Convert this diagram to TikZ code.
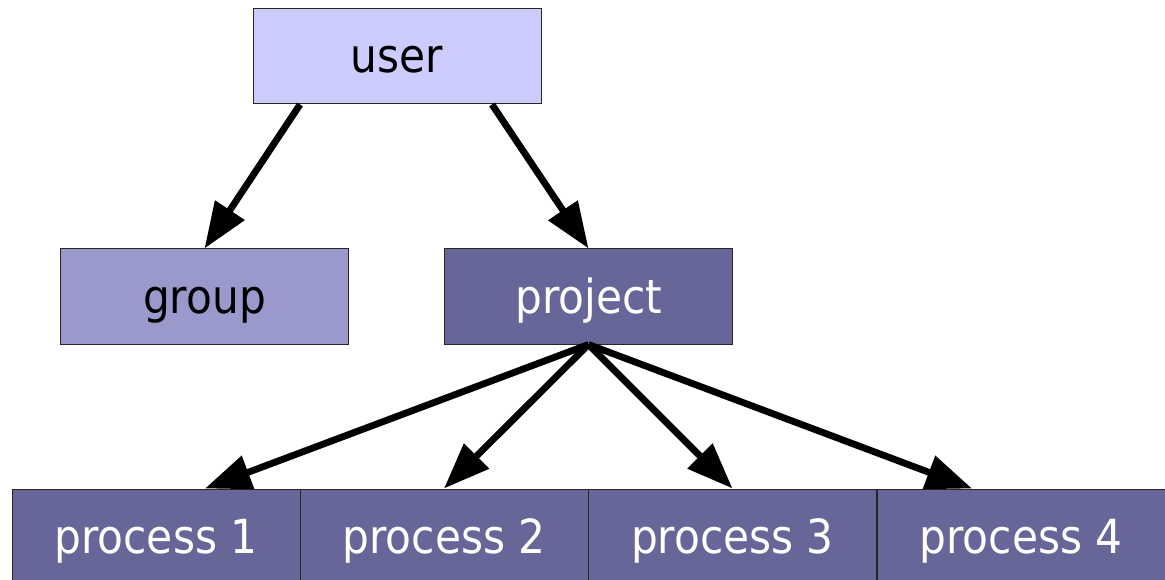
\documentclass[tikz,border=0pt]{standalone}
\usepackage{fontspec}
\setmainfont{DejaVu Sans Condensed}
\usetikzlibrary{arrows.meta}
\definecolor{userc}{HTML}{CCCCFF}
\definecolor{groupc}{HTML}{9999CC}
\definecolor{projc}{HTML}{666699}
\begin{document}
\begin{tikzpicture}[x=1pt,y=-1pt,
  box/.style={draw=black!85, line width=1pt, minimum width=288pt, minimum height=95pt,
    inner sep=0pt, text height=33pt, text depth=0pt, font=\fontsize{47}{54}\selectfont},
  light/.style={box, fill=userc, text=black},
  mid/.style={box, fill=groupc, text=black},
  dark/.style={box, fill=projc, text=white},
  conn/.style={line width=6.8pt, -{Triangle[length=46pt,width=34pt]}}
]
\useasboundingbox (0,0) rectangle (1165,580);
\node[light] (user) at (397,56.5) {user};
\node[mid] (group) at (204.5,296.5) {group};
\node[dark] (project) at (588.5,296.5) {project};
\node[dark] (p1) at (156,536.5) {process 1};
\node[dark] (p2) at (444,536.5) {process 2};
\node[dark] (p3) at (732.5,536.5) {process 3};
\node[dark] (p4) at (1021,536.5) {process 4};
\draw[conn] ([xshift=-97pt]user.south) -- (group.north);
\draw[conn] ([xshift=95pt]user.south) -- (project.north);
\draw[conn] (project.south) -- ([xshift=49pt]p1.north);
\draw[conn] (project.south) -- (p2.north);
\draw[conn] (project.south) -- (p3.north);
\draw[conn] (project.south) -- ([xshift=-49pt]p4.north);
\end{tikzpicture}
\end{document}
